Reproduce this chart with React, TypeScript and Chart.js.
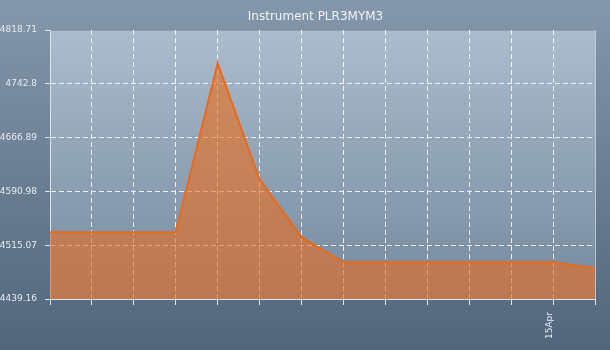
import React, { useEffect, useRef } from 'react';
import { Chart, registerables } from 'chart.js';

Chart.register(...registerables);

const chartTitle = 'Instrument PLR3MYM3';
const categories = ['', '', '', '', '', '', '', '', '', '', '', '', '15Apr', ''];
const values = [4533.5, 4533.5, 4533.5, 4533.5, 4771.5, 4608, 4526, 4491, 4491, 4491, 4491, 4491, 4491, 4482.5];
const yTicks = [4439.16, 4515.07, 4590.98, 4666.89, 4742.8, 4818.71];
const yTickLabels = ['4439.16', '4515.07', '4590.98', '4666.89', '4742.8', '4818.71'];

const FONT = "'DejaVu Sans', sans-serif";
const GRID = 'rgba(255,255,255,0.85)';
const AXIS = '#dde4ea';
const TEXT = '#e6ebf0';

const bgPlugin = {
  id: 'bgPlugin',
  beforeDraw(chart: any) {
    const { ctx, width, height, chartArea } = chart;
    ctx.save();
    const g = ctx.createLinearGradient(0, 0, 0, height);
    g.addColorStop(0, '#8497ab');
    g.addColorStop(1, '#52667b');
    ctx.fillStyle = g;
    ctx.fillRect(0, 0, width, height);
    const { left, top, right, bottom } = chartArea;
    const g2 = ctx.createLinearGradient(0, top, 0, bottom);
    g2.addColorStop(0, '#abbdcd');
    g2.addColorStop(1, '#75899e');
    ctx.fillStyle = g2;
    ctx.fillRect(left, top, right - left, bottom - top);
    ctx.strokeStyle = 'rgba(80,100,120,0.35)';
    ctx.lineWidth = 1;
    ctx.beginPath();
    ctx.moveTo(left, top + 0.5);
    ctx.lineTo(right, top + 0.5);
    ctx.stroke();
    ctx.strokeStyle = 'rgba(215,225,235,0.75)';
    ctx.beginPath();
    ctx.moveTo(right + 0.5, top);
    ctx.lineTo(right + 0.5, bottom);
    ctx.stroke();
    ctx.restore();
  },
  afterDraw(chart: any) {
    const { ctx } = chart;
    ctx.save();
    ctx.font = `normal 12px ${FONT}`;
    ctx.fillStyle = '#f0f3f6';
    ctx.textAlign = 'center';
    ctx.textBaseline = 'middle';
    ctx.fillText(chartTitle, 315.5, 17);
    ctx.restore();
  },
};

export default function App() {
  const ref = useRef<HTMLCanvasElement>(null);

  useEffect(() => {
    if (!ref.current) return;
    const chart = new Chart(ref.current, {
      type: 'line',
      data: {
        labels: categories,
        datasets: [
          {
            data: values,
            borderColor: '#ea6a1c',
            borderWidth: 2,
            backgroundColor: 'rgba(232,110,30,0.62)',
            fill: 'start',
            pointRadius: 0,
            tension: 0,
          },
        ],
      },
      options: {
        responsive: false,
        animation: false,
        devicePixelRatio: 1,
        layout: { padding: { left: 0, right: 0, top: 30, bottom: 0 } },
        plugins: {
          legend: { display: false },
          tooltip: { enabled: false },
          title: { display: false },
        },
        scales: {
          x: {
            type: 'category',
            offset: false,
            afterFit: (s: any) => {
              s.height = 51;
              s.paddingLeft = 0;
              s.paddingRight = 15;
            },
            grid: {
              color: (c: any) => (c.index === categories.length - 1 ? 'rgba(0,0,0,0)' : GRID),
              lineWidth: 1,
              tickLength: 6,
              tickColor: AXIS,
            },
            border: { display: true, color: AXIS, width: 1, dash: [5, 3] },
            ticks: {
              autoSkip: false,
              maxRotation: 90,
              minRotation: 90,
              padding: 7,
              labelOffset: -3,
              color: TEXT,
              font: { family: FONT, size: 9 },
            },
          },
          y: {
            type: 'linear',
            position: 'left',
            min: yTicks[0],
            max: yTicks[yTicks.length - 1],
            afterBuildTicks: (s: any) => {
              s.ticks = yTicks.map((v) => ({ value: v }));
            },
            afterFit: (s: any) => {
              s.width = 50;
            },
            grid: {
              color: (c: any) => (c.index === yTicks.length - 1 ? 'rgba(0,0,0,0)' : GRID),
              lineWidth: 1,
              tickLength: 5,
              tickColor: AXIS,
            },
            border: { display: true, color: AXIS, width: 1, dash: [5, 3] },
            ticks: {
              padding: 8,
              color: TEXT,
              font: { family: FONT, size: 9 },
              callback: (_v: any, i: number) => yTickLabels[i],
            },
          },
        },
      },
      plugins: [bgPlugin],
    });
    return () => chart.destroy();
  }, []);

  return (
    <div style={{ position: 'fixed', left: 0, top: 0, width: 610, height: 350 }}>
      <canvas ref={ref} width={610} height={350} style={{ display: 'block' }} />
    </div>
  );
}
